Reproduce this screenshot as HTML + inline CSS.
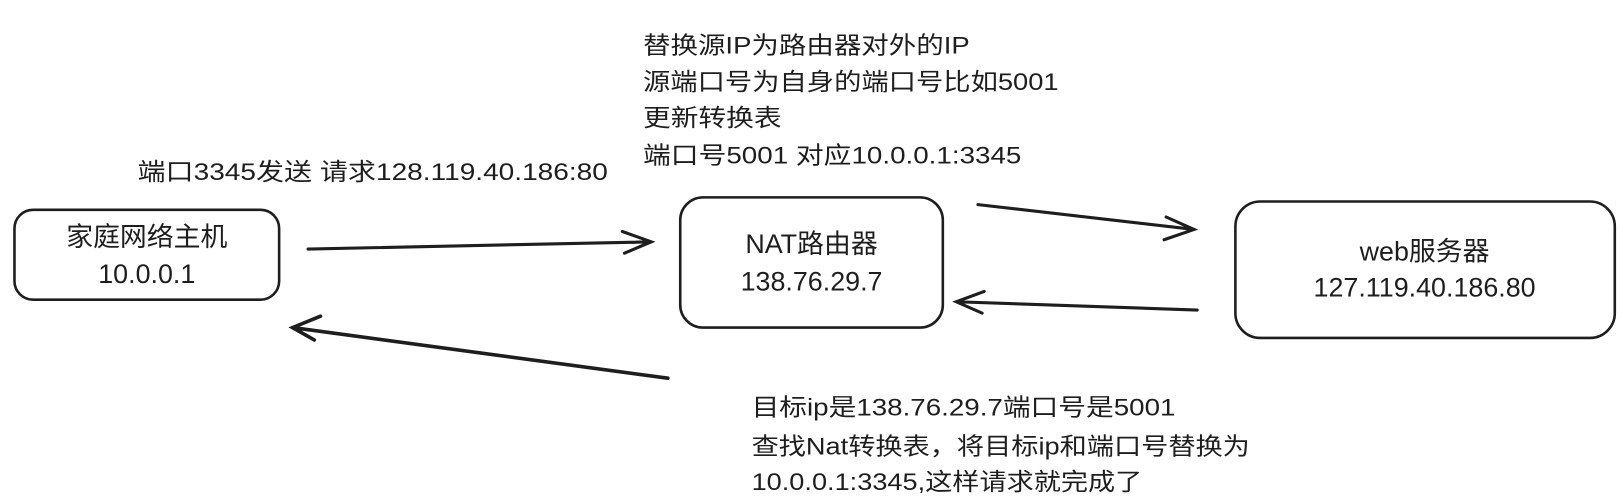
<!DOCTYPE html>
<html><head><meta charset="utf-8"><style>
html,body{margin:0;padding:0;background:#fff;}
svg text{font-family:"Liberation Sans","Noto Sans CJK SC",sans-serif;font-size:23px;fill:#1e1e1e;}
svg text.b{font-size:26px;}
</style></head><body>
<svg width="1621" height="495" viewBox="0 0 1568 479" preserveAspectRatio="none" xmlns="http://www.w3.org/2000/svg">
<g fill="none" stroke="#1e1e1e" stroke-width="2.5" stroke-linecap="round">
<rect x="14" y="203" width="256" height="87" rx="18"/>
<rect x="658" y="191" width="254" height="126" rx="22"/>
<rect x="1195" y="195" width="367" height="132" rx="24"/>
<path d="M298 241 L630 234 M602 224 L630 234 L604 245" stroke-width="3"/>
<path d="M946 198 L1155 222 M1128 210 L1155 222 L1126 232" stroke-width="3"/>
<path d="M1158 300 L925 292 M952 282 L925 292 L950 303" stroke-width="3"/>
<path d="M646 366 L283 317 M310 306 L283 317 L304 329" stroke-width="3.5"/>
</g>
<text class="b" x="142" y="238" text-anchor="middle">家庭网络主机</text>
<text class="b" x="142" y="274" text-anchor="middle">10.0.0.1</text>
<text class="b" x="785" y="245" text-anchor="middle">NAT路由器</text>
<text class="b" x="785" y="281" text-anchor="middle">138.76.29.7</text>
<text class="b" x="1378" y="252" text-anchor="middle">web服务器</text>
<text class="b" x="1378" y="287" text-anchor="middle">127.119.40.186.80</text>
<text x="133" y="174" textLength="455" lengthAdjust="spacingAndGlyphs">端口3345发送 请求128.119.40.186:80</text>
<text x="622" y="52" textLength="316" lengthAdjust="spacingAndGlyphs">替换源IP为路由器对外的IP</text>
<text x="622" y="87" textLength="402" lengthAdjust="spacingAndGlyphs">源端口号为自身的端口号比如5001</text>
<text x="622" y="122" textLength="134" lengthAdjust="spacingAndGlyphs">更新转换表</text>
<text x="622" y="158" textLength="366" lengthAdjust="spacingAndGlyphs">端口号5001 对应10.0.0.1:3345</text>
<text x="727" y="402" textLength="410" lengthAdjust="spacingAndGlyphs">目标ip是138.76.29.7端口号是5001</text>
<text x="727" y="440" textLength="482" lengthAdjust="spacingAndGlyphs">查找Nat转换表，将目标ip和端口号替换为</text>
<text x="727" y="474" textLength="378" lengthAdjust="spacingAndGlyphs">10.0.0.1:3345,这样请求就完成了</text>
</svg>
</body></html>
